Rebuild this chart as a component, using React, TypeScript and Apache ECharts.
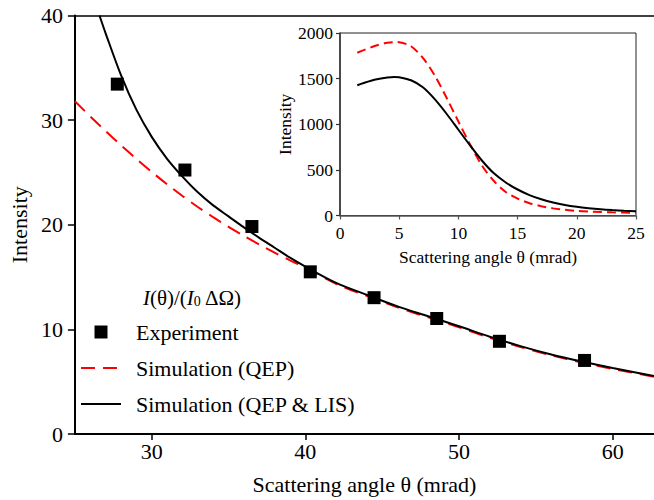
import React, { useEffect, useRef } from "react";
import * as echarts from "echarts";

const FONT = "Liberation Serif";

// Main panel
const mainXTicks = [30, 40, 50, 60];
const mainYTicks = [0, 10, 20, 30, 40];
const expAngle = [27.76, 32.16, 36.52, 40.32, 44.47, 48.55, 52.63, 58.17];
const expIntensity = [33.44, 25.23, 19.83, 15.5, 13.03, 11.04, 8.86, 7.03];

const qepAngle = [25, 26, 27, 28, 29, 30, 31, 32, 33, 34, 35, 36, 37, 38, 39, 40, 42, 44, 46, 48, 50, 52, 54, 56, 58, 60, 62.69];
const qepIntensity = [31.8, 30.35, 28.95, 27.6, 26.3, 25.05, 23.87, 22.75, 21.7, 20.72, 19.8, 18.93, 18.11, 17.33, 16.6, 15.9, 14.35, 13.2, 12.1, 11.15, 10.2, 9.2, 8.32, 7.52, 6.84, 6.22, 5.47];

const lisAngle = [26.6, 27, 28, 29, 30, 31, 32, 33, 34, 35, 36, 37, 38, 39, 40, 42, 44, 46, 48, 50, 52, 54, 56, 58, 60, 62.69];
const lisIntensity = [40.0, 38.3, 34.3, 31.0, 28.4, 26.3, 24.6, 23.1, 21.85, 20.8, 19.75, 18.75, 17.8, 16.85, 16.0, 14.45, 13.3, 12.2, 11.25, 10.3, 9.3, 8.4, 7.6, 6.92, 6.3, 5.55];

// Inset panel
const insetXTicks = [0, 5, 10, 15, 20, 25];
const insetYTicks = [0, 500, 1000, 1500, 2000];
const insetQepAngle = [1.46, 2, 3, 4, 4.7, 5, 6, 7, 8, 9, 10, 11, 12, 13, 14, 15, 16, 17, 18, 19, 20, 21, 22, 23, 24, 25];
const insetQepIntensity = [1784, 1812, 1860, 1892, 1901, 1899, 1855, 1727, 1535, 1290, 1030, 775, 545, 378, 258, 185, 135, 102, 78, 62, 51, 44, 39, 35, 32, 30];
const insetLisAngle = [1.46, 2, 3, 4, 4.6, 5, 6, 7, 8, 9, 10, 11, 12, 13, 14, 15, 16, 17, 18, 19, 20, 21, 22, 23, 24, 25];
const insetLisIntensity = [1427, 1452, 1490, 1513, 1518, 1515, 1482, 1405, 1275, 1115, 940, 765, 600, 462, 362, 285, 224, 178, 142, 115, 95, 80, 68, 59, 52, 47];

const NAMES = ["Experiment", "Simulation (QEP)", "Simulation (QEP & LIS)"];

const zip = (xs: number[], ys: number[]) => xs.map((x, i) => [x, ys[i]]);

export default function App() {
  const ref = useRef<HTMLDivElement>(null);
  useEffect(() => {
    if (!ref.current) return;
    const chart = echarts.init(ref.current, undefined, { renderer: "svg" });
    const txt = { fontFamily: FONT, color: "#000" };
    chart.setOption({
      animation: false,
      backgroundColor: "#fff",
      textStyle: { fontFamily: FONT },
      grid: [
        { left: 69, right: 0, top: 15.5, bottom: 62.5 },
        { left: 340, right: 18, top: 33, bottom: 284.5, show: true, backgroundColor: "#fff", borderColor: "#222", borderWidth: 1, z: 5 },
      ],
      xAxis: [
        {
          type: "value", gridIndex: 0, min: 25, max: 62.69,
          name: "Scattering angle θ (mrad)", nameLocation: "middle", nameGap: 39,
          nameTextStyle: { ...txt, fontSize: 22 },
          axisLine: { show: true, onZero: false, lineStyle: { color: "#000", width: 2 } },
          axisTick: { show: true, length: 6, customValues: mainXTicks, lineStyle: { color: "#000", width: 1.5 } },
          axisLabel: { customValues: mainXTicks, margin: 6, fontSize: 22, ...txt },
          splitLine: { show: false },
        },
        {
          type: "value", gridIndex: 0, min: 25, max: 62.69, position: "top",
          axisLine: { show: true, onZero: false, lineStyle: { color: "#000", width: 1.5 } },
          axisTick: { show: false }, axisLabel: { show: false }, splitLine: { show: false },
        },
        {
          type: "value", gridIndex: 1, min: 0, max: 25, interval: 5,
          name: "Scattering angle θ (mrad)", nameLocation: "middle", nameGap: 32,
          nameTextStyle: { ...txt, fontSize: 17.5 },
          axisLine: { show: true, onZero: false, lineStyle: { color: "#555", width: 1.5 } },
          axisTick: { show: true, length: 4, customValues: insetXTicks, lineStyle: { color: "#555", width: 1.2 } },
          axisLabel: { customValues: insetXTicks, margin: 8, fontSize: 17.5, ...txt, formatter: (v: number) => String(v) },
          splitLine: { show: false },
          z: 6,
        },
      ],
      yAxis: [
        {
          type: "value", gridIndex: 0, min: 0, max: 40, interval: 10,
          name: "Intensity", nameLocation: "middle", nameGap: 38,
          nameTextStyle: { ...txt, fontSize: 22 },
          axisLine: { show: true, onZero: false, lineStyle: { color: "#000", width: 2 } },
          axisTick: { show: true, length: 7, customValues: mainYTicks, lineStyle: { color: "#000", width: 1.5 } },
          axisLabel: { customValues: mainYTicks, margin: 12, fontSize: 22, ...txt },
          splitLine: { show: false },
        },
        {
          type: "value", gridIndex: 1, min: 0, max: 2000, interval: 500,
          name: "Intensity", nameLocation: "middle", nameGap: 44,
          nameTextStyle: { ...txt, fontSize: 17.5 },
          axisLine: { show: true, onZero: false, lineStyle: { color: "#333", width: 1.5 } },
          axisTick: { show: true, length: 4, customValues: insetYTicks, lineStyle: { color: "#333", width: 1.2 } },
          axisLabel: { customValues: insetYTicks, margin: 7, fontSize: 17.5, ...txt, formatter: (v: number) => String(v) },
          splitLine: { show: false },
          z: 6,
        },
      ],
      legend: {
        data: [
          { name: NAMES[0], icon: "path://M0,0L10,0L10,10L0,10Z", symbolKeepAspect: true, itemStyle: { color: "#000", opacity: 1 } },
          { name: NAMES[1], itemStyle: { opacity: 0 } },
          { name: NAMES[2], itemStyle: { opacity: 0 } },
        ],
        orient: "vertical",
        left: 80,
        top: 321,
        padding: 0,
        itemWidth: 40,
        itemHeight: 13,
        itemGap: 14,
        symbolKeepAspect: true,
        selectedMode: false,
        textStyle: { ...txt, fontSize: 22, lineHeight: 22, padding: [0, 0, 0, 10] },
      },
      graphic: [
        {
          type: "text",
          left: 143,
          top: 287,
          z: 10,
          style: {
            text: "{i|I}(θ)/({i|I}{s|0} ΔΩ)",
            fontFamily: FONT,
            fontSize: 21,
            fill: "#000",
            rich: {
              i: { fontFamily: FONT, fontSize: 21, fontStyle: "italic", fill: "#000" },
              s: { fontFamily: FONT, fontSize: 14, fill: "#000", verticalAlign: "bottom", lineHeight: 5 },
            },
          },
        },
      ],
      series: [
        {
          name: NAMES[1], type: "line", xAxisIndex: 0, yAxisIndex: 0,
          data: zip(qepAngle, qepIntensity), smooth: 0.3, symbol: "none", showSymbol: false,
          lineStyle: { color: "#ff0000", width: 2, type: [14, 8] }, itemStyle: { color: "#ff0000" }, z: 2,
        },
        {
          name: NAMES[2], type: "line", xAxisIndex: 0, yAxisIndex: 0,
          data: zip(lisAngle, lisIntensity), smooth: 0.3, symbol: "none", showSymbol: false,
          lineStyle: { color: "#000", width: 2 }, itemStyle: { color: "#000" }, z: 3,
        },
        {
          name: NAMES[0], type: "scatter", xAxisIndex: 0, yAxisIndex: 0,
          data: zip(expAngle, expIntensity), symbol: "rect", symbolSize: 13, symbolKeepAspect: true,
          itemStyle: { color: "#000", opacity: 1 }, z: 4,
        },
        {
          name: "inset QEP", type: "line", xAxisIndex: 2, yAxisIndex: 1,
          data: zip(insetQepAngle, insetQepIntensity), smooth: 0.3, symbol: "none", showSymbol: false,
          lineStyle: { color: "#ff0000", width: 2, type: [9, 5] }, z: 7,
        },
        {
          name: "inset QEP & LIS", type: "line", xAxisIndex: 2, yAxisIndex: 1,
          data: zip(insetLisAngle, insetLisIntensity), smooth: 0.3, symbol: "none", showSymbol: false,
          lineStyle: { color: "#000", width: 2 }, z: 8,
        },
      ],
    });
    return () => chart.dispose();
  }, []);
  return <div ref={ref} style={{ position: "fixed", left: 0, top: 0, width: 654, height: 500 }} />;
}
